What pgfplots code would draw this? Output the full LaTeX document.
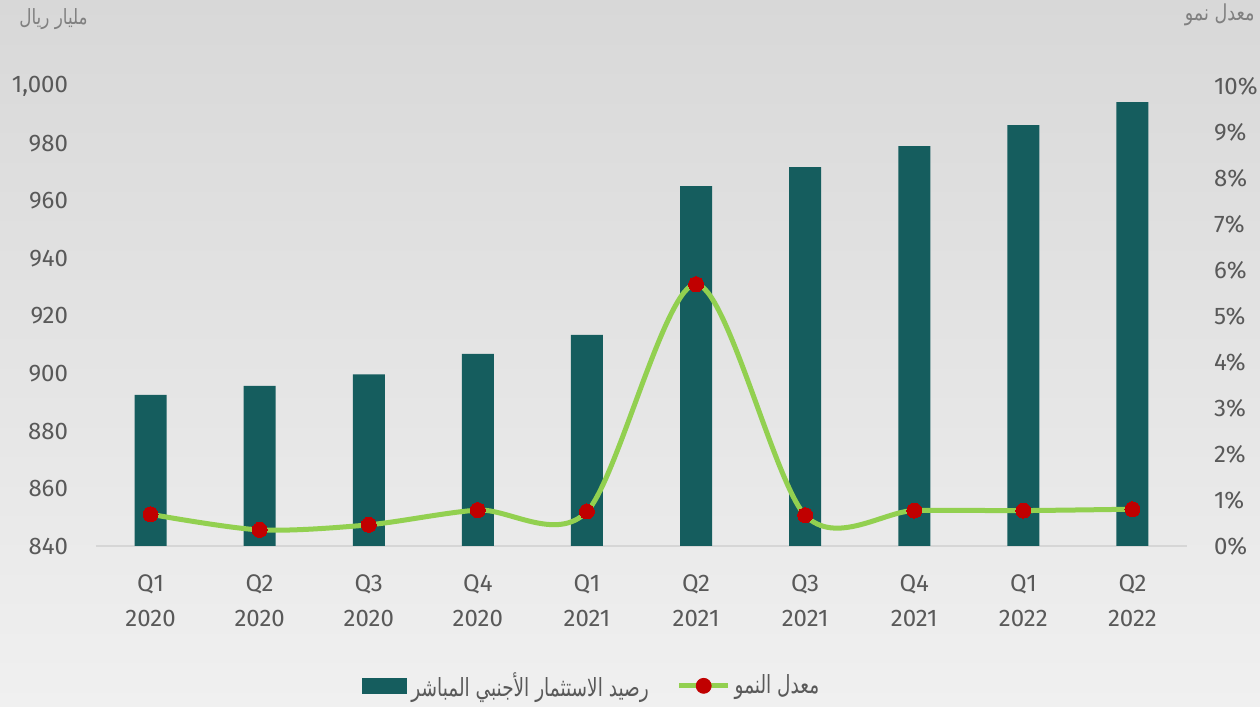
\documentclass[border=0pt]{standalone}
\usepackage{pgfplots}
\pgfplotsset{compat=1.18}
\usepackage{fontspec}
\setmainfont{Fira Sans}
\newfontfamily\arabicfont[Script=Arabic, FakeStretch=0.8]{DejaVu Sans}
\newfontfamily\arabiclegend[Script=Arabic, FakeStretch=0.74]{DejaVu Sans}
\TeXXeTstate=1
\definecolor{barcol}{RGB}{21,93,94}
\definecolor{linecol}{RGB}{146,208,80}
\definecolor{dotcol}{RGB}{192,0,0}
\definecolor{txt}{RGB}{89,89,89}
\definecolor{ttl}{RGB}{128,128,128}
\definecolor{bgtop}{RGB}{216,216,216}
\definecolor{bgbot}{RGB}{240,240,240}
\definecolor{basecol}{RGB}{214,214,214}

\pgfplotstableread{
x val
0 892.6
1 895.7
2 899.7
3 906.8
4 913.4
5 965.2
6 971.8
7 979.1
8 986.4
9 994.4
}\bars
\pgfplotstableread{
x g
0 0.69
1 0.35
2 0.46
3 0.78
4 0.75
5 5.69
6 0.67
7 0.77
8 0.77
9 0.80
}\growth

\begin{document}
\begin{tikzpicture}[x=1pt,y=1pt]
\fill[top color=bgtop, bottom color=bgbot] (0,0) rectangle (630,353.5);
\begin{axis}[
  at={(48pt,80.5pt)}, anchor=south west,
  scale only axis, width=545.5pt, height=230pt,
  clip=false,
  xmin=-0.5, xmax=9.5, ymin=840, ymax=1000,
  ytick={840,860,...,1000},
  xtick={0,...,9},
  xticklabels={Q1\\2020,Q2\\2020,Q3\\2020,Q4\\2020,Q1\\2021,Q2\\2021,Q3\\2021,Q4\\2021,Q1\\2022,Q2\\2022},
  axis x line*=bottom, axis y line*=left,
  x axis line style={draw=basecol, line width=1pt, -},
  y axis line style={draw=none},
  major tick length=0pt,
  /pgf/number format/assume math mode=true,
  /pgf/number format/1000 sep={,},
  ticklabel style={text=txt},
  yticklabel style={font=\fontsize{12}{14}\selectfont, xshift=-10.5pt},
  xticklabel style={font=\fontsize{12}{17.5}\selectfont, align=center, yshift=-11pt},
  legend style={at={(axis description cs:0.2438,-0.304)}, anchor=west, draw=none, fill=none, inner sep=0pt,
    font=\fontsize{12.5}{14}\selectfont, text=txt,
    /tikz/every even column/.append style={column sep=12pt}},
  legend columns=2,
  legend cell align=left,
]
\addplot[ybar, bar width=16pt, bar shift=0pt, fill=barcol, draw=none,
  legend image code/.code={\fill[barcol] (0pt,-4pt) rectangle (22.5pt,4pt);}]
  table[x=x,y=val]{\bars};
\addlegendentry{\arabiclegend\beginR رصيد الاستثمار الأجنبي المباشر\endR}
\addlegendimage{legend image code/.code={\draw[linecol, line width=2.5pt] (0pt,0pt) -- (24.5pt,0pt); \fill[dotcol] (12.25pt,0pt) circle (3.75pt);}}
\addlegendentry{\arabiclegend\beginR معدل النمو\endR}
\node[anchor=east, inner sep=0pt, text=ttl, font=\arabicfont\fontsize{10.5}{12}\selectfont] at (axis description cs:-0.0073,1.1457) {\beginR مليار ريال\endR};
\node[anchor=east, inner sep=0pt, text=ttl, font=\arabicfont\fontsize{11}{12}\selectfont] at (axis description cs:1.0623,1.154) {\beginR معدل نمو\endR};
\end{axis}
\begin{axis}[
  at={(48pt,80.5pt)}, anchor=south west,
  scale only axis, width=545.5pt, height=230pt,
  clip=false,
  xmin=-0.5, xmax=9.5, ymin=0, ymax=10,
  axis x line=none, axis y line*=right,
  y axis line style={draw=none},
  ytick={0,...,10},
  major tick length=0pt,
  /pgf/number format/assume math mode=true,
  yticklabel={\pgfmathprintnumber{\tick}\%},
  yticklabel style={font=\fontsize{12}{14}\selectfont, text=txt, anchor=west, xshift=10pt},
]
\addplot[linecol, line width=2.5pt, smooth, mark=*, mark size=3.75pt,
  mark options={fill=dotcol, draw=dotcol, line width=0pt}]
  table[x=x,y=g]{\growth};
\end{axis}
\pgfresetboundingbox
\useasboundingbox (0,0) rectangle (630,353.5);
\end{tikzpicture}
\end{document}
